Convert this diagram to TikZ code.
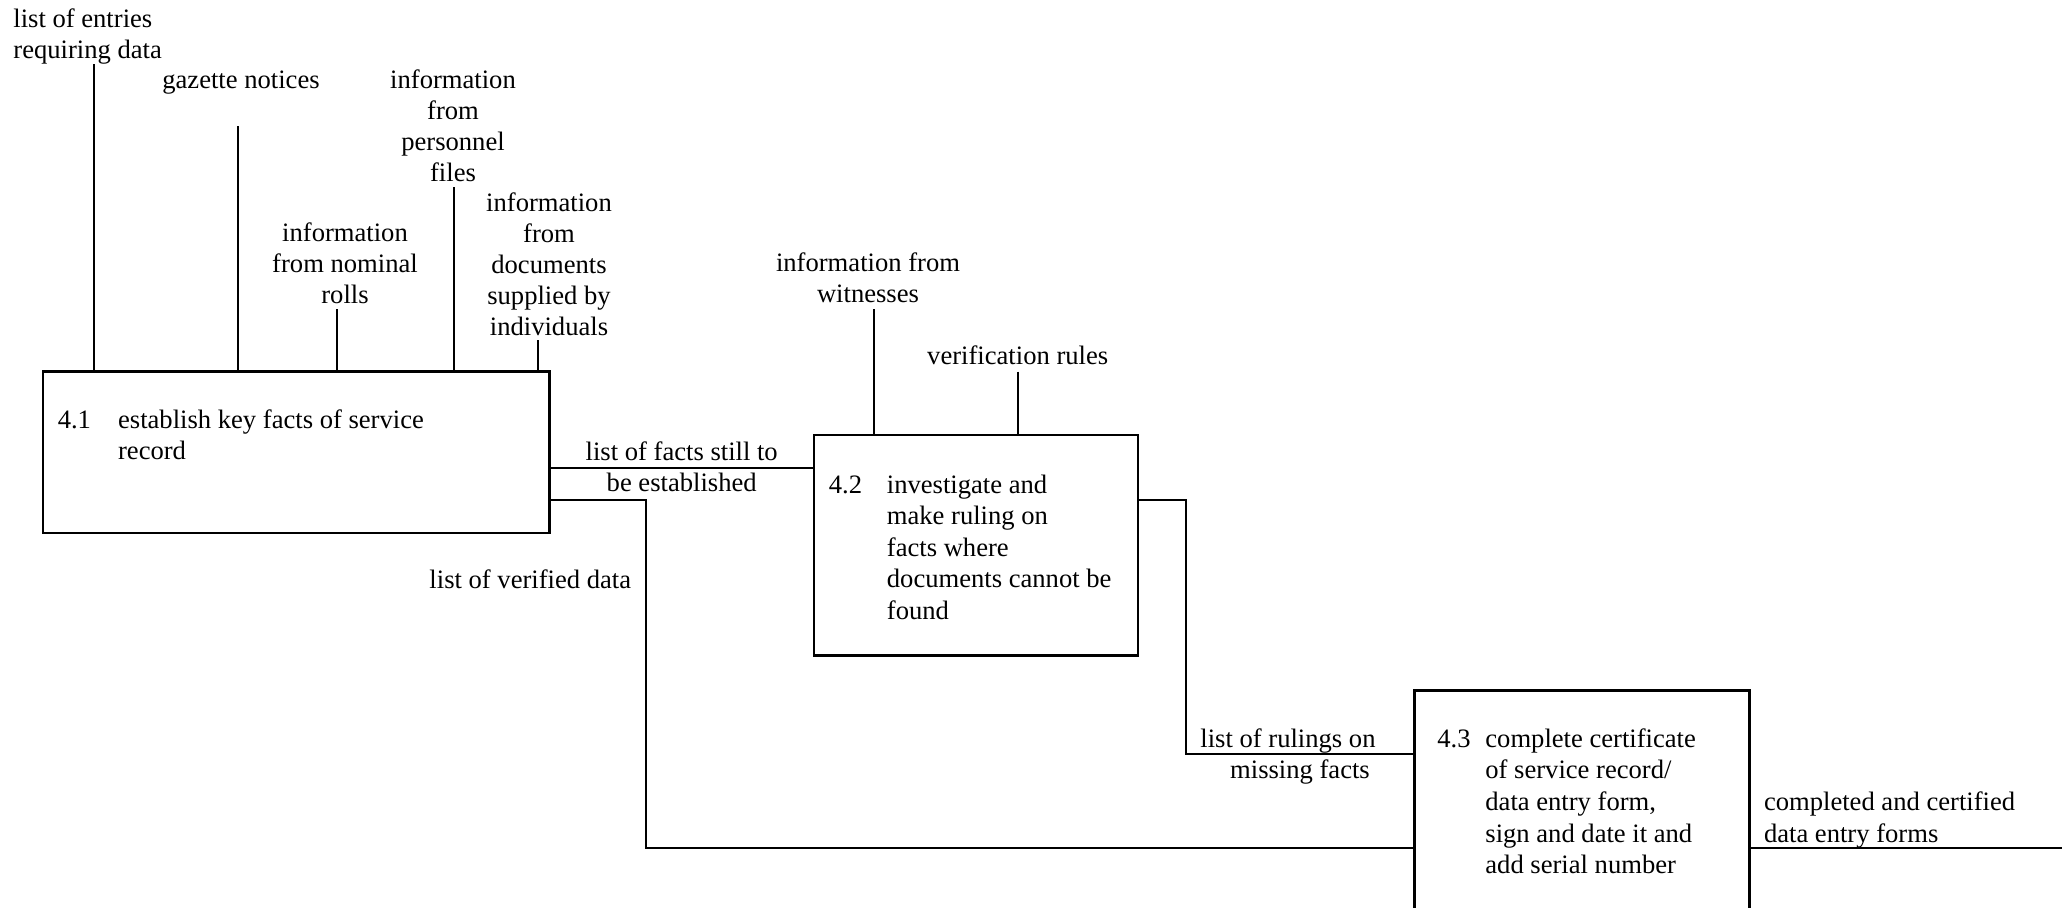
\documentclass[tikz,border=0pt]{standalone}
\usepackage{fontspec}
\setmainfont{Liberation Serif}
\newcommand\rows[2]{\begin{tabular}[t]{@{}#1@{}}#2\end{tabular}}
\tikzset{
  flow/.style={line width=1pt},
  proc/.style={draw, line width=1.1pt, rectangle, inner sep=0pt, outer sep=0pt, anchor=north west},
  txt/.style={inner sep=0pt, font=\fontsize{13.3}{15.8}\selectfont},
  txttop/.style={inner sep=0pt, font=\fontsize{13.3}{15.5}\selectfont},
}
\begin{document}
\begin{tikzpicture}[x=0.5pt,y=-0.5pt]
\useasboundingbox (0,0) rectangle (2062,907);
\clip (0,0) rectangle (2062,907);

% processes
\node[proc, minimum width=253.25pt, minimum height=80.55pt] (p41) at (43,371.5) {};
\node[proc, minimum width=161.85pt, minimum height=110.25pt] (p42) at (814,435) {};
\node[proc, minimum width=167.5pt, minimum height=130pt] (p43) at (1414.5,690.5) {};

% process texts
\node[txt, anchor=base west] (n41) at (57.4,428.3) {4.1};
\node[txt, anchor=base west] (d41) at (117.7,428.3) {\rows{l}{establish key facts of service\\record}};
\node[txt, anchor=base west] (n42) at (828.5,493) {4.2};
\node[txt, anchor=base west] (d42) at (886.5,493) {\rows{l}{investigate and\\make ruling on\\facts where\\documents cannot be\\found}};
\node[txt, anchor=base west] (n43) at (1437,747.3) {4.3};
\node[txt, anchor=base west] (d43) at (1485,747.3) {\rows{l}{complete certificate\\of service record/\\data entry form,\\sign and date it and\\add serial number}};

% inputs to 4.1
\node[txttop, anchor=base west] (t-entries) at (13,27) {\rows{l}{list of entries\\requiring data}};
\node[txttop, anchor=base] (t-gazette) at (241,88) {gazette notices};
\node[txttop, anchor=base] (t-personnel) at (453,88) {\rows{c}{information\\from\\personnel\\files}};
\node[txttop, anchor=base] (t-nominal) at (345,241.7) {\rows{c}{information\\from nominal\\rolls}};
\node[txttop, anchor=base] (t-documents) at (549,211.7) {\rows{c}{information\\from\\documents\\supplied by\\individuals}};

\coordinate (c-entries) at (93.5,64);
\coordinate (c-gazette) at (238,126);
\coordinate (c-nominal) at (336.6,309);
\coordinate (c-personnel) at (454,187);
\coordinate (c-documents) at (538,340);
\foreach \c in {entries,gazette,nominal,personnel,documents}
  \draw[flow] (c-\c) -- (c-\c |- p41.north);

% inputs to 4.2
\node[txt, anchor=base] (t-witnesses) at (868,271.3) {\rows{c}{information from\\witnesses}};
\node[txt, anchor=base] (t-rules) at (1017.7,364.6) {verification rules};
\coordinate (c-witnesses) at (873.7,309.3);
\coordinate (c-rules) at (1017.7,371.7);
\draw[flow] (c-witnesses) -- (c-witnesses |- p42.north);
\draw[flow] (c-rules) -- (c-rules |- p42.north);

% 4.1 -> 4.2
\coordinate (y-facts) at (0,467.5);
\draw[flow] (p41.east |- y-facts) -- (p42.west |- y-facts);
\node[txt, anchor=base] (t-facts) at (681.7,460) {\rows{c}{list of facts still to\\be established}};

% 4.1 -> 4.3
\coordinate (y-verified) at (0,500);
\coordinate (c-verified) at (645.8,847.5);
\draw[flow] (p41.east |- y-verified) -| (c-verified) -- (c-verified -| p43.west);
\node[txt, anchor=base east] (t-verified) at (631.5,588.4) {list of verified data};

% 4.2 -> 4.3
\coordinate (y-rulings) at (0,500);
\coordinate (c-rulings) at (1186,754);
\draw[flow] (p42.east |- y-rulings) -| (c-rulings) -- (c-rulings -| p43.west);
\node[txt, anchor=base] (t-rulings) at (1288,747.3) {\rows{c}{list of rulings on\\\hspace*{12pt}missing facts}};

% output of 4.3
\coordinate (c-out) at (2062,847.5);
\draw[flow] (p43.east |- c-out) -- (c-out);
\node[txt, anchor=base west] (t-out) at (1763.6,810.6) {\rows{l}{completed and certified\\data entry forms}};
\end{tikzpicture}
\end{document}
